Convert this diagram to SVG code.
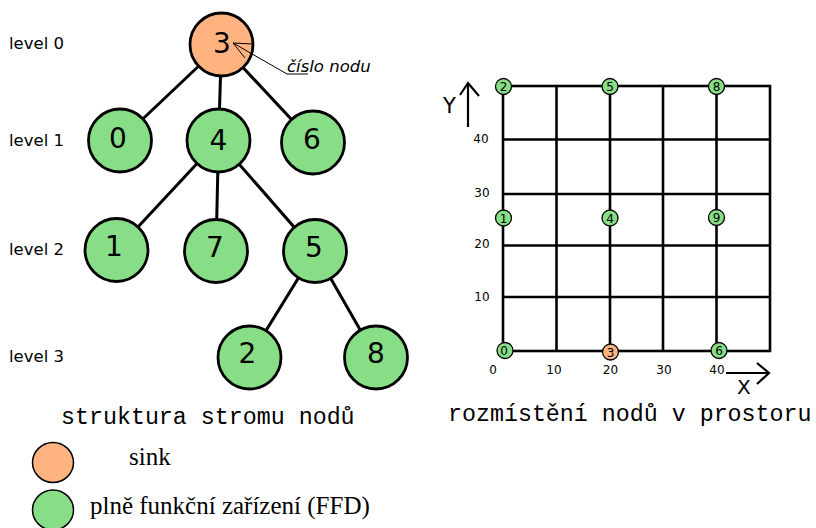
<svg xmlns="http://www.w3.org/2000/svg" width="816" height="528" viewBox="0 0 816 528">
<style>
.edge{stroke:#000;stroke-width:3;fill:none}
.grid{stroke:#000;stroke-width:2.6;fill:none}
.tn{stroke:#000;stroke-width:2.8}
.gn{stroke:#000;stroke-width:1.3}
.sink{fill:#ffb380}
.ffd{fill:#87de87}
.lvl{font-family:"DejaVu Sans",sans-serif;font-size:16.5px;fill:#000}
.big{font-family:"DejaVu Sans",sans-serif;font-size:28px;text-anchor:middle;fill:#000}
.small{font-family:"DejaVu Sans",sans-serif;font-size:12px;text-anchor:middle;fill:#000}
.tick{font-family:"DejaVu Sans",sans-serif;font-size:12px;text-anchor:middle;fill:#000}
.cap{font-family:"Liberation Mono","Courier New",monospace;font-size:23.3px;fill:#000}
.leg{font-family:"Liberation Serif","Times New Roman",serif;font-size:25px;fill:#000}
</style>
<rect width="816" height="528" fill="#fff"/>
<g id="connectors">
<line class="edge" x1="221.5" y1="44.5" x2="120" y2="140.5"/>
<line class="edge" x1="221.5" y1="44.5" x2="218.5" y2="140.5"/>
<line class="edge" x1="221.5" y1="44.5" x2="313" y2="142.5"/>
<line class="edge" x1="218.5" y1="140.5" x2="116.5" y2="250"/>
<line class="edge" x1="218.5" y1="140.5" x2="216" y2="251"/>
<line class="edge" x1="218.5" y1="140.5" x2="315" y2="251"/>
<line class="edge" x1="315" y1="251" x2="249.5" y2="357.5"/>
<line class="edge" x1="315" y1="251" x2="376" y2="357.5"/>
</g>
<g id="levels">
<text class="lvl" x="9" y="48.5">level 0</text>
<text class="lvl" x="9" y="146">level 1</text>
<text class="lvl" x="9" y="255">level 2</text>
<text class="lvl" x="9" y="362">level 3</text>
</g>
<g id="node3"><circle class="tn sink" cx="221.5" cy="44.5" r="31.5"/><text class="big" x="222" y="53">3</text></g>
<g id="node0"><circle class="tn ffd" cx="120" cy="140.5" r="31.5"/><text class="big" x="118" y="147.5">0</text></g>
<g id="node4"><circle class="tn ffd" cx="218.5" cy="140.5" r="31.5"/><text class="big" x="218.5" y="150">4</text></g>
<g id="node6"><circle class="tn ffd" cx="313" cy="142.5" r="31.5"/><text class="big" x="312" y="149">6</text></g>
<g id="node1"><circle class="tn ffd" cx="116.5" cy="250" r="31.5"/><text class="big" x="114" y="255.5">1</text></g>
<g id="node7"><circle class="tn ffd" cx="216" cy="251" r="31.5"/><text class="big" x="215" y="256.5">7</text></g>
<g id="node5"><circle class="tn ffd" cx="315" cy="251" r="31.5"/><text class="big" x="314" y="256.5">5</text></g>
<g id="node2"><circle class="tn ffd" cx="249.5" cy="357.5" r="31.5"/><text class="big" x="247.5" y="363">2</text></g>
<g id="node8"><circle class="tn ffd" cx="376" cy="357.5" r="31.5"/><text class="big" x="376" y="363">8</text></g>
<g id="annotation">
<polyline points="308,74 287,74 233,43" fill="none" stroke="#000" stroke-width="1"/>
<polyline points="252,44 233,43 245,58" fill="none" stroke="#000" stroke-width="1"/>
<text x="287" y="72" font-family="DejaVu Sans,sans-serif" font-style="italic" font-size="16.5px">číslo nodu</text>
</g>
<g id="grid">
<rect class="grid" x="503" y="86" width="267" height="265"/>
<line class="grid" x1="556.5" y1="86" x2="556.5" y2="351"/>
<line class="grid" x1="610" y1="86" x2="610" y2="351"/>
<line class="grid" x1="663" y1="86" x2="663" y2="351"/>
<line class="grid" x1="716.5" y1="86" x2="716.5" y2="351"/>
<line class="grid" x1="503" y1="139.5" x2="770" y2="139.5"/>
<line class="grid" x1="503" y1="194" x2="770" y2="194"/>
<line class="grid" x1="503" y1="245.5" x2="770" y2="245.5"/>
<line class="grid" x1="503" y1="297" x2="770" y2="297"/>
</g>
<g id="axes">
<polyline points="468,127 468,83" fill="none" stroke="#000" stroke-width="2.2"/>
<polyline points="460,95 468,83 479,96" fill="none" stroke="#000" stroke-width="2.2"/>
<text x="443" y="113" font-family="DejaVu Sans,sans-serif" font-size="21px">Y</text>
<polyline points="726,373 769,373" fill="none" stroke="#000" stroke-width="2.2"/>
<polyline points="757,363 769,373 757,384" fill="none" stroke="#000" stroke-width="2.2"/>
<text x="737" y="394" font-family="DejaVu Sans,sans-serif" font-size="20px">X</text>
<text class="tick" x="481" y="143">40</text>
<text class="tick" x="482" y="197">30</text>
<text class="tick" x="482" y="248">20</text>
<text class="tick" x="482" y="301">10</text>
<text class="tick" x="493" y="374">0</text>
<text class="tick" x="554" y="374">10</text>
<text class="tick" x="610.5" y="374">20</text>
<text class="tick" x="664" y="374">30</text>
<text class="tick" x="717" y="374">40</text>
</g>
<g id="g2"><circle class="gn ffd" cx="503.5" cy="86.5" r="8"/><text class="small" x="503.5" y="91">2</text></g>
<g id="g5"><circle class="gn ffd" cx="610" cy="86.5" r="8"/><text class="small" x="610" y="91">5</text></g>
<g id="g8"><circle class="gn ffd" cx="716.5" cy="86.5" r="8"/><text class="small" x="716.5" y="91">8</text></g>
<g id="g1"><circle class="gn ffd" cx="503.5" cy="218" r="8"/><text class="small" x="503.5" y="222.5">1</text></g>
<g id="g4"><circle class="gn ffd" cx="610" cy="218" r="8"/><text class="small" x="610" y="222.5">4</text></g>
<g id="g9"><circle class="gn ffd" cx="716.5" cy="217.5" r="8"/><text class="small" x="716.5" y="222">9</text></g>
<g id="g0"><circle class="gn ffd" cx="505" cy="350.5" r="8"/><text class="small" x="504" y="355">0</text></g>
<g id="g3"><circle class="gn sink" cx="610.5" cy="352" r="8"/><text class="small" x="610.5" y="356.5">3</text></g>
<g id="g6"><circle class="gn ffd" cx="719" cy="350.5" r="8"/><text class="small" x="719" y="355">6</text></g>
<g id="captions">
<text class="cap" x="61" y="424">struktura stromu nodů</text>
<text class="cap" x="448" y="421">rozmístění nodů v prostoru</text>
</g>
<g id="legend">
<ellipse cx="53" cy="462.5" rx="20.5" ry="20" fill="#ffb380" stroke="#000" stroke-width="1.5"/>
<text class="leg" x="129" y="465">sink</text>
<ellipse cx="53" cy="510" rx="20.5" ry="20" fill="#87de87" stroke="#000" stroke-width="1.5"/>
<text class="leg" x="90" y="514">plně funkční zařízení (FFD)</text>
</g>
</svg>
